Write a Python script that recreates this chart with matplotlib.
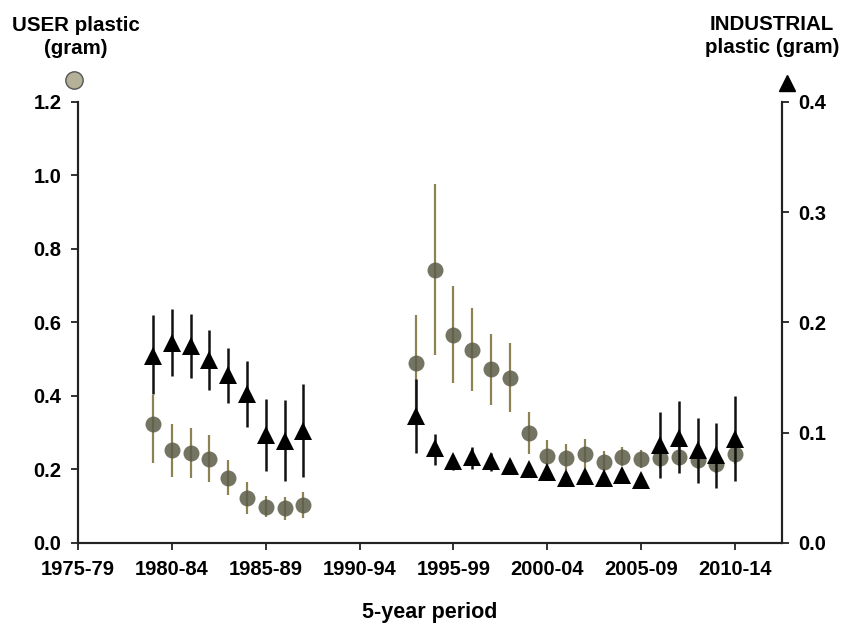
import matplotlib
matplotlib.use('Agg')
import matplotlib.pyplot as plt
import numpy as np

plt.rcParams['font.family'] = ['Liberation Sans', 'DejaVu Sans']
plt.rcParams['font.weight'] = 'bold'

# First block of years (1979-1987)
years1 = np.arange(1979, 1988)
user1 = [0.324, 0.252, 0.245, 0.229, 0.178, 0.123, 0.099, 0.096, 0.103]
user1_lo = [0.218, 0.179, 0.176, 0.167, 0.130, 0.079, 0.071, 0.063, 0.068]
user1_hi = [0.403, 0.325, 0.312, 0.293, 0.225, 0.165, 0.127, 0.125, 0.139]
ind1 = [0.170, 0.181, 0.179, 0.166, 0.152, 0.135, 0.098, 0.0925, 0.102]
ind1_lo = [0.135, 0.151, 0.150, 0.139, 0.127, 0.105, 0.065, 0.056, 0.060]
ind1_hi = [0.207, 0.212, 0.208, 0.193, 0.177, 0.165, 0.131, 0.130, 0.144]

# Second block of years (1993-2010)
years2 = np.arange(1993, 2011)
user2 = [0.490, 0.743, 0.565, 0.526, 0.472, 0.450, 0.299, 0.237, 0.232,
         0.242, 0.221, 0.235, 0.228, 0.230, 0.235, 0.227, 0.216, 0.242]
user2_lo = [0.360, 0.511, 0.435, 0.413, 0.376, 0.357, 0.243, 0.200, 0.198,
            0.205, 0.195, 0.210, 0.205, 0.205, 0.210, 0.200, 0.190, 0.215]
user2_hi = [0.620, 0.976, 0.698, 0.640, 0.569, 0.544, 0.355, 0.279, 0.270,
            0.282, 0.250, 0.261, 0.252, 0.255, 0.260, 0.252, 0.240, 0.268]
ind2 = [0.115, 0.086, 0.0746, 0.078, 0.074, 0.070, 0.0668, 0.0646, 0.059,
        0.061, 0.0586, 0.0618, 0.0567, 0.0889, 0.0955, 0.084, 0.0795, 0.0946]
ind2_lo = [0.082, 0.071, 0.066, 0.067, 0.065, 0.065, 0.063, 0.060, 0.056,
           0.057, 0.055, 0.058, 0.054, 0.0586, 0.0637, 0.054, 0.050, 0.056]
ind2_hi = [0.149, 0.099, 0.080, 0.087, 0.082, 0.075, 0.070, 0.069, 0.062,
           0.065, 0.062, 0.066, 0.060, 0.119, 0.129, 0.1137, 0.109, 0.1334]

period_ticks = [1975, 1980, 1985, 1990, 1995, 2000, 2005, 2010]
period_labels = ['1975-79', '1980-84', '1985-89', '1990-94',
                 '1995-99', '2000-04', '2005-09', '2010-14']

fig = plt.figure(figsize=(8.46, 6.27), dpi=100)
ax = fig.add_axes([0.0922, 0.134, 0.8322, 0.7035])
ax2 = ax.twinx()

user_err_col = '#8c8254'
user_face = '#5c5c48'

for yrs, v, lo, hi in [(years1, user1, user1_lo, user1_hi),
                       (years2, user2, user2_lo, user2_hi)]:
    v = np.array(v)
    err = [v - np.array(lo), np.array(hi) - v]
    ax.errorbar(yrs, v, yerr=err, fmt='none', ecolor=user_err_col,
                elinewidth=1.6, capsize=0)
    ax.plot(yrs, v, 'o', ms=11.5, color=user_face, alpha=0.85, mew=0)

for yrs, v, lo, hi in [(years1, ind1, ind1_lo, ind1_hi),
                       (years2, ind2, ind2_lo, ind2_hi)]:
    v = np.array(v)
    err = [v - np.array(lo), np.array(hi) - v]
    ax2.errorbar(yrs, v, yerr=err, fmt='^', ms=12.5, color='black',
                 ecolor='#111111', elinewidth=1.8, capsize=0, mew=0)

ax.set_xlim(1975, 2012.5)
ax.set_ylim(0, 1.2)
ax2.set_ylim(0, 0.4)
ax.set_yticks(np.arange(0, 1.21, 0.2))
ax2.set_yticks(np.arange(0, 0.41, 0.1))
ax.set_yticklabels(['%.1f' % t for t in np.arange(0, 1.21, 0.2)])
ax2.set_yticklabels(['%.1f' % t for t in np.arange(0, 0.41, 0.1)])
ax.set_xticks(period_ticks)
ax.set_xticklabels(period_labels)

for a in (ax, ax2):
    a.spines['top'].set_visible(False)
    for s in ('left', 'right', 'bottom'):
        a.spines[s].set_linewidth(1.5)
        a.spines[s].set_color('#222222')
    a.tick_params(direction='out', length=5, width=1.3, color='#222222',
                  labelsize=14.5, pad=7)

ax.set_xlabel('5-year period', fontsize=15.5, fontweight='bold', labelpad=17)

# Axis titles with marker keys
fig.text(76 / 846, 1 - 37 / 627, 'USER plastic\n(gram)', ha='center', va='center',
         fontsize=14.8, fontweight='bold', linespacing=1.25)
fig.text(772 / 846, 1 - 36 / 627, 'INDUSTRIAL\nplastic (gram)', ha='center', va='center',
         fontsize=14.8, fontweight='bold', linespacing=1.25)
key = fig.add_axes([0, 0, 1, 1], facecolor='none')
key.set_xlim(0, 846)
key.set_ylim(627, 0)
key.axis('off')
key.plot([74], [80], 'o', ms=12.5, mfc='#b4b198', mec='#555555', mew=1)
key.plot([787], [83], '^', ms=12, color='black')

fig.savefig('out.png', dpi=100)
